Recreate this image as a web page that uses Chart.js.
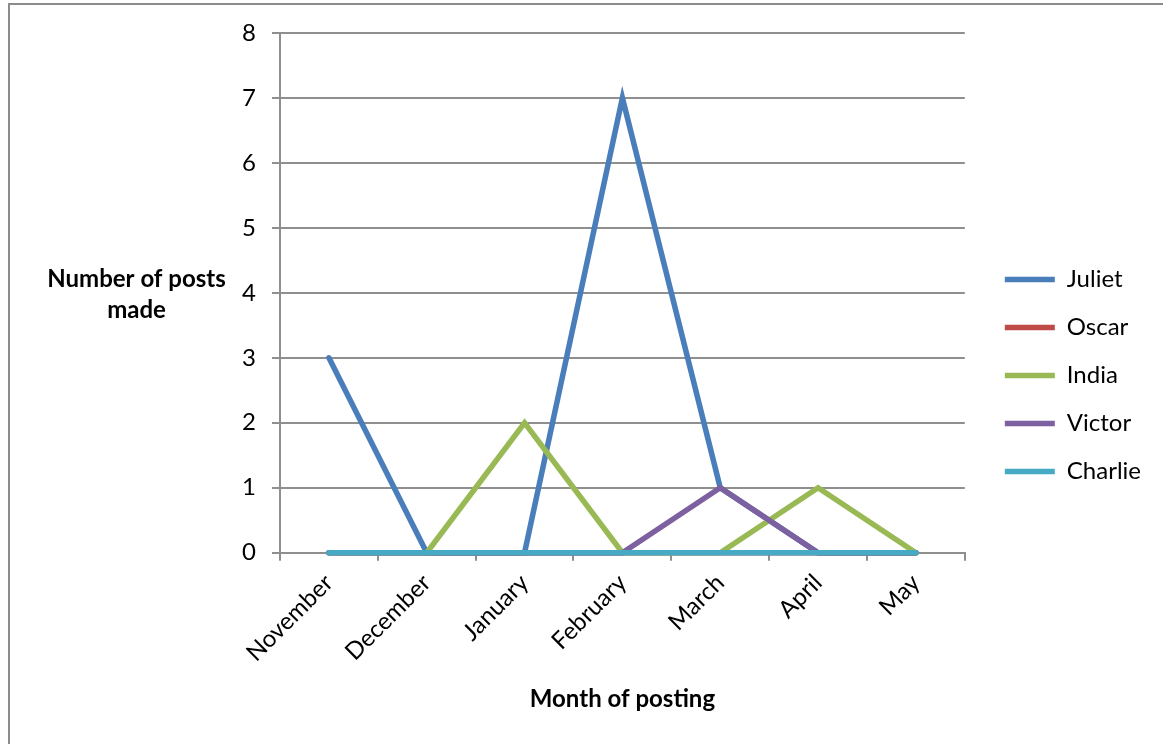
<!DOCTYPE html>
<html>
<head>
<meta charset="utf-8">
<script src="https://cdn.jsdelivr.net/npm/chart.js@4.4.0/dist/chart.umd.min.js"></script>
<style>
    html, body { margin: 0; padding: 0; background: #ffffff; }
    #wrap { position: relative; width: 1163px; height: 744px; }
    #frame {
        position: absolute; left: 8px; top: 3px; right: -10px; bottom: -10px;
        border-left: 2px solid #8c8c8c; border-top: 2px solid #8c8c8c;
        pointer-events: none;
    }
</style>
</head>
<body>
<div id="wrap">
    <canvas id="postsChart" width="1163" height="744"></canvas>
    <div id="frame"></div>
</div>
<script>
// Data
const months = ['November', 'December', 'January', 'February', 'March', 'April', 'May'];
const juliet = [3, 0, 0, 7, 1, 0, 0];
const oscar = [0, 0, 0, 0, 0, 0, 0];
const india = [0, 0, 2, 0, 0, 1, 0];
const victor = [0, 0, 0, 0, 1, 0, 0];
const charlie = [0, 0, 0, 0, 0, 0, 0];
const yTitleLines = ['Number of posts', 'made'];

const FONT = 'Lato, "Open Sans", sans-serif';
const GRID = '#8f8f8f';

function series(label, data, color, order) {
    return {
        label: label,
        data: data,
        borderColor: color,
        backgroundColor: color,
        borderWidth: 5.5,
        borderCapStyle: 'round',
        pointRadius: 0,
        pointHoverRadius: 0,
        tension: 0,
        clip: false,
        order: order
    };
}

// Horizontal two-line y-axis title, like the Excel original
const yTitlePlugin = {
    id: 'yTitle',
    afterDraw(chart) {
        const ctx = chart.ctx;
        const area = chart.chartArea;
        const cx = area.left - 143.5;
        const cy = (area.top + area.bottom) / 2;
        ctx.save();
        ctx.font = 'bold 24px ' + FONT;
        ctx.fillStyle = '#000000';
        ctx.textAlign = 'center';
        ctx.textBaseline = 'middle';
        ctx.fillText(yTitleLines[0], cx, cy - 14);
        ctx.fillText(yTitleLines[1], cx, cy + 17);
        ctx.restore();
    }
};

document.addEventListener('DOMContentLoaded', function() {
    const ctx = document.getElementById('postsChart').getContext('2d');
    new Chart(ctx, {
        type: 'line',
        data: {
            labels: months,
            datasets: [
                series('Juliet', juliet, '#4a7ebb', 4),
                series('Oscar', oscar, '#be4b48', 3),
                series('India', india, '#98b954', 2),
                series('Victor', victor, '#7d60a0', 1),
                series('Charlie', charlie, '#46aac5', 0)
            ]
        },
        options: {
            responsive: false,
            animation: false,
            events: [],
            layout: {
                padding: { left: 0, top: 33, right: 12, bottom: 26 }
            },
            plugins: {
                tooltip: { enabled: false },
                legend: {
                    position: 'right',
                    reverse: true,
                    labels: {
                        usePointStyle: true,
                        pointStyle: 'line',
                        pointStyleWidth: 50,
                        padding: 24,
                        color: '#000000',
                        font: { family: FONT, size: 24 }
                    }
                }
            },
            scales: {
                x: {
                    offset: true,
                    grid: {
                        display: true,
                        offset: true,
                        drawOnChartArea: false,
                        drawTicks: true,
                        tickLength: 8,
                        color: GRID,
                        lineWidth: 2
                    },
                    border: { display: true, color: GRID, width: 2 },
                    ticks: {
                        minRotation: 45,
                        maxRotation: 45,
                        padding: 8,
                        color: '#000000',
                        font: { family: FONT, size: 24 }
                    },
                    title: {
                        display: true,
                        text: 'Month of posting',
                        color: '#000000',
                        font: { family: FONT, size: 24, weight: 'bold' },
                        padding: { top: 10, bottom: 4 }
                    }
                },
                y: {
                    min: 0,
                    max: 8,
                    grid: {
                        color: GRID,
                        lineWidth: 2,
                        drawTicks: true,
                        tickLength: 8
                    },
                    border: { display: true, color: GRID, width: 2 },
                    ticks: {
                        stepSize: 1,
                        padding: 16,
                        color: '#000000',
                        font: { family: FONT, size: 24 }
                    },
                    afterFit: function(scale) { scale.width = 280; }
                },
                gap: {
                    type: 'linear',
                    position: 'right',
                    display: true,
                    grid: { display: false },
                    border: { display: false },
                    ticks: { display: false },
                    afterFit: function(scale) { scale.width = 16; }
                }
            }
        },
        plugins: [yTitlePlugin]
    });
});
</script>
</body>
</html>
